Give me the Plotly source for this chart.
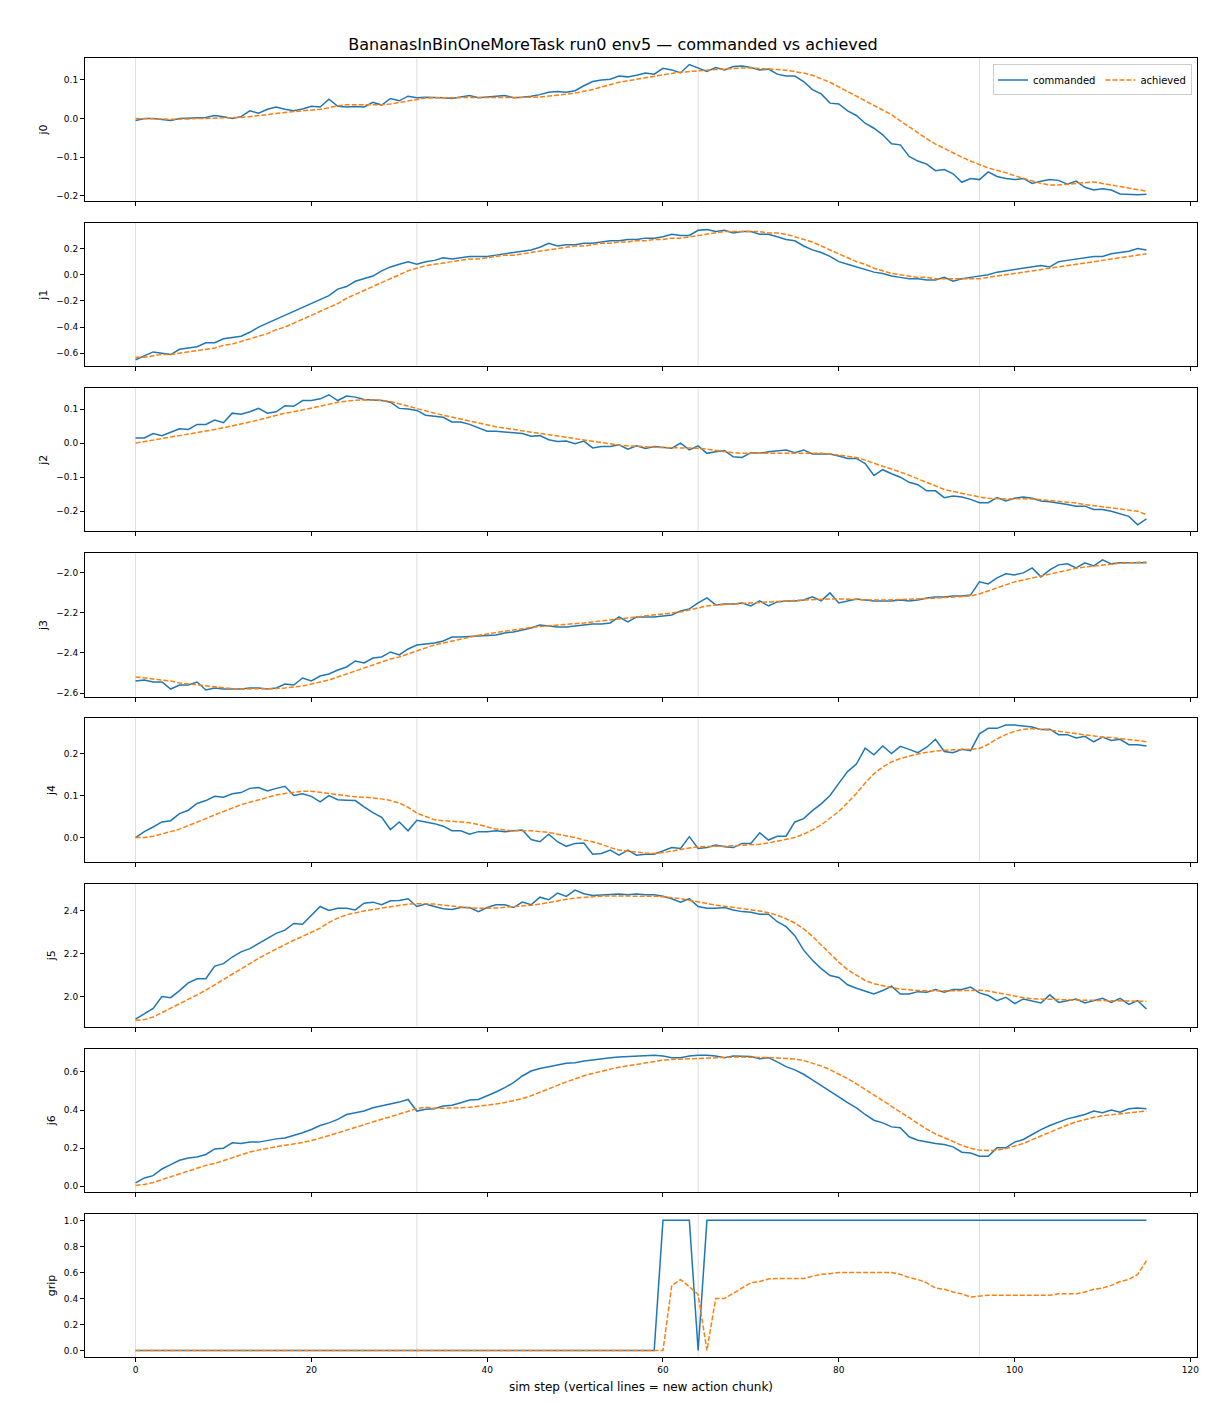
import plotly.graph_objects as go
from plotly.subplots import make_subplots

steps = list(range(116))
chunk_starts = [0, 32, 64, 96]
joint_names = ["j0", "j1", "j2", "j3", "j4", "j5", "j6", "grip"]
y_dticks = [0.1, 0.2, 0.1, 0.2, 0.1, 0.2, 0.2, 0.2]
x_ticks = [0, 20, 40, 60, 80, 100, 120]

j0_cmd = [-0.005,0.000,0.000,-0.003,-0.005,0.000,0.001,0.002,0.003,0.008,
0.005,0.000,0.005,0.020,0.014,0.024,0.030,0.024,0.020,0.025,
0.032,0.030,0.050,0.032,0.030,0.031,0.030,0.042,0.035,0.052,
0.046,0.058,0.054,0.055,0.055,0.054,0.052,0.056,0.060,0.054,
0.056,0.058,0.060,0.054,0.055,0.058,0.062,0.068,0.070,0.068,
0.072,0.085,0.096,0.100,0.102,0.110,0.108,0.112,0.118,0.115,
0.130,0.126,0.118,0.140,0.132,0.122,0.132,0.126,0.135,0.136,
0.132,0.126,0.128,0.115,0.110,0.110,0.096,0.075,0.064,0.040,
0.038,0.020,0.008,-0.012,-0.025,-0.042,-0.065,-0.068,-0.098,-0.110,
-0.118,-0.135,-0.132,-0.143,-0.165,-0.155,-0.158,-0.138,-0.150,-0.155,
-0.158,-0.155,-0.168,-0.162,-0.158,-0.160,-0.170,-0.162,-0.178,-0.185,
-0.182,-0.185,-0.195,-0.196,-0.197,-0.196]
j0_ach = [0.0,0.0,0.0,-0.001,-0.002,-0.002,-0.001,0.0,0.0,0.001,
0.002,0.002,0.003,0.005,0.008,0.01,0.013,0.016,0.018,0.02,
0.022,0.024,0.028,0.033,0.036,0.036,0.035,0.035,0.036,0.038,
0.042,0.046,0.05,0.053,0.054,0.054,0.054,0.054,0.055,0.055,
0.055,0.055,0.055,0.055,0.055,0.055,0.056,0.058,0.06,0.063,
0.066,0.07,0.075,0.082,0.088,0.094,0.098,0.102,0.106,0.11,
0.114,0.117,0.12,0.122,0.124,0.126,0.127,0.128,0.13,0.131,
0.131,0.13,0.128,0.127,0.125,0.122,0.118,0.112,0.104,0.094,
0.082,0.07,0.058,0.046,0.034,0.022,0.01,-0.006,-0.022,-0.038,
-0.052,-0.066,-0.078,-0.09,-0.1,-0.11,-0.12,-0.128,-0.134,-0.14,
-0.148,-0.155,-0.162,-0.168,-0.172,-0.172,-0.17,-0.168,-0.165,-0.164,
-0.168,-0.172,-0.176,-0.18,-0.185,-0.188]

j1_cmd = [-0.65,-0.62,-0.59,-0.60,-0.61,-0.57,-0.56,-0.55,-0.52,-0.52,
-0.49,-0.48,-0.47,-0.44,-0.40,-0.37,-0.34,-0.31,-0.28,-0.25,
-0.22,-0.19,-0.16,-0.11,-0.09,-0.05,-0.03,-0.01,0.03,0.06,
0.08,0.10,0.08,0.10,0.11,0.13,0.12,0.13,0.14,0.14,
0.14,0.15,0.16,0.17,0.18,0.19,0.21,0.24,0.22,0.23,
0.23,0.24,0.24,0.25,0.26,0.26,0.27,0.27,0.28,0.28,
0.29,0.31,0.30,0.30,0.34,0.345,0.33,0.34,0.32,0.33,
0.33,0.31,0.31,0.29,0.27,0.26,0.22,0.19,0.17,0.14,
0.10,0.08,0.06,0.04,0.02,0.01,-0.01,-0.02,-0.03,-0.03,
-0.04,-0.04,-0.02,-0.05,-0.03,-0.02,-0.01,0.00,0.02,0.03,
0.04,0.05,0.06,0.07,0.06,0.10,0.11,0.12,0.13,0.14,
0.14,0.16,0.17,0.18,0.20,0.19]
j1_ach = [-0.63,-0.63,-0.62,-0.61,-0.61,-0.60,-0.59,-0.58,-0.57,-0.56,
-0.54,-0.53,-0.51,-0.49,-0.47,-0.45,-0.42,-0.40,-0.37,-0.34,
-0.31,-0.28,-0.25,-0.22,-0.18,-0.15,-0.12,-0.09,-0.06,-0.03,
0.00,0.03,0.05,0.07,0.08,0.09,0.10,0.11,0.12,0.12,
0.13,0.14,0.15,0.15,0.16,0.17,0.18,0.19,0.20,0.21,
0.22,0.22,0.23,0.24,0.24,0.25,0.25,0.26,0.26,0.27,
0.27,0.28,0.28,0.29,0.30,0.31,0.32,0.33,0.33,0.33,
0.33,0.33,0.32,0.32,0.31,0.29,0.27,0.25,0.22,0.19,
0.16,0.13,0.10,0.08,0.05,0.03,0.01,0.00,-0.01,-0.02,
-0.02,-0.03,-0.03,-0.03,-0.03,-0.03,-0.03,-0.02,-0.01,0.00,
0.01,0.02,0.03,0.04,0.05,0.06,0.07,0.08,0.09,0.10,
0.11,0.12,0.13,0.14,0.15,0.16]

j2_cmd = [0.015,0.015,0.028,0.022,0.032,0.042,0.040,0.055,0.055,0.068,
0.060,0.088,0.085,0.092,0.102,0.088,0.092,0.110,0.108,0.125,
0.125,0.130,0.142,0.125,0.138,0.135,0.128,0.126,0.125,0.120,
0.102,0.100,0.096,0.082,0.078,0.076,0.062,0.062,0.055,0.045,
0.035,0.035,0.032,0.030,0.028,0.020,0.022,0.010,0.005,0.006,
-0.002,0.006,-0.014,-0.010,-0.010,-0.005,-0.018,-0.008,-0.016,-0.010,
-0.012,-0.015,0.000,-0.020,-0.008,-0.030,-0.025,-0.022,-0.040,-0.042,
-0.028,-0.030,-0.025,-0.022,-0.020,-0.028,-0.020,-0.032,-0.032,-0.032,
-0.038,-0.045,-0.045,-0.060,-0.095,-0.078,-0.090,-0.100,-0.115,-0.122,
-0.140,-0.140,-0.160,-0.155,-0.158,-0.165,-0.175,-0.175,-0.160,-0.170,
-0.162,-0.158,-0.162,-0.170,-0.172,-0.175,-0.180,-0.185,-0.185,-0.195,
-0.195,-0.200,-0.208,-0.215,-0.240,-0.222]
j2_ach = [0.0,0.005,0.01,0.015,0.018,0.022,0.026,0.03,0.035,0.04,
0.045,0.05,0.056,0.062,0.068,0.075,0.082,0.088,0.092,0.097,
0.102,0.108,0.114,0.12,0.124,0.126,0.127,0.127,0.126,0.122,
0.115,0.108,0.1,0.094,0.088,0.082,0.076,0.07,0.064,0.058,
0.052,0.048,0.044,0.04,0.036,0.033,0.028,0.024,0.02,0.016,
0.012,0.008,0.004,0.0,-0.004,-0.006,-0.008,-0.01,-0.011,-0.012,
-0.013,-0.013,-0.013,-0.013,-0.015,-0.018,-0.022,-0.025,-0.028,-0.03,
-0.03,-0.03,-0.03,-0.029,-0.028,-0.028,-0.028,-0.029,-0.03,-0.032,
-0.035,-0.038,-0.042,-0.05,-0.06,-0.068,-0.076,-0.084,-0.094,-0.105,
-0.116,-0.127,-0.136,-0.142,-0.148,-0.153,-0.158,-0.162,-0.164,-0.164,
-0.163,-0.163,-0.164,-0.166,-0.168,-0.17,-0.173,-0.176,-0.18,-0.183,
-0.186,-0.189,-0.192,-0.196,-0.2,-0.21]

j3_cmd = [-2.54,-2.535,-2.545,-2.545,-2.58,-2.56,-2.56,-2.545,-2.585,-2.575,
-2.58,-2.58,-2.58,-2.575,-2.575,-2.58,-2.575,-2.555,-2.56,-2.525,
-2.54,-2.515,-2.505,-2.485,-2.47,-2.44,-2.45,-2.425,-2.42,-2.395,
-2.41,-2.38,-2.36,-2.355,-2.35,-2.34,-2.32,-2.32,-2.318,-2.316,
-2.315,-2.31,-2.30,-2.295,-2.285,-2.275,-2.26,-2.265,-2.27,-2.27,
-2.265,-2.26,-2.255,-2.255,-2.25,-2.22,-2.245,-2.22,-2.22,-2.22,
-2.215,-2.21,-2.19,-2.18,-2.15,-2.125,-2.16,-2.155,-2.155,-2.15,
-2.165,-2.14,-2.165,-2.145,-2.14,-2.14,-2.135,-2.12,-2.14,-2.10,
-2.15,-2.14,-2.13,-2.135,-2.14,-2.14,-2.14,-2.135,-2.14,-2.135,
-2.125,-2.12,-2.12,-2.115,-2.115,-2.11,-2.045,-2.055,-2.025,-2.005,
-2.01,-2.0,-1.975,-2.02,-1.985,-1.96,-1.955,-1.975,-1.95,-1.965,
-1.935,-1.955,-1.95,-1.95,-1.95,-1.95]
j3_ach = [-2.52,-2.525,-2.53,-2.535,-2.54,-2.55,-2.555,-2.56,-2.565,-2.57,
-2.575,-2.578,-2.58,-2.58,-2.58,-2.58,-2.578,-2.575,-2.57,-2.565,
-2.555,-2.545,-2.535,-2.52,-2.505,-2.49,-2.475,-2.46,-2.445,-2.43,
-2.42,-2.405,-2.39,-2.375,-2.36,-2.35,-2.34,-2.33,-2.32,-2.312,
-2.305,-2.298,-2.29,-2.283,-2.277,-2.272,-2.268,-2.265,-2.262,-2.258,
-2.255,-2.25,-2.245,-2.24,-2.235,-2.23,-2.225,-2.22,-2.215,-2.21,
-2.205,-2.2,-2.195,-2.185,-2.175,-2.165,-2.16,-2.158,-2.155,-2.152,
-2.15,-2.148,-2.145,-2.143,-2.14,-2.138,-2.135,-2.132,-2.13,-2.13,
-2.13,-2.132,-2.135,-2.136,-2.136,-2.136,-2.135,-2.134,-2.132,-2.13,
-2.128,-2.126,-2.124,-2.122,-2.12,-2.115,-2.105,-2.09,-2.075,-2.06,
-2.045,-2.035,-2.025,-2.015,-2.005,-1.995,-1.985,-1.977,-1.97,-1.965,
-1.96,-1.955,-1.952,-1.95,-1.948,-1.946]

j4_cmd = [0.0,0.014,0.025,0.037,0.04,0.057,0.065,0.081,0.088,0.098,
0.096,0.104,0.107,0.117,0.119,0.111,0.117,0.122,0.10,0.104,
0.098,0.085,0.10,0.09,0.089,0.088,0.073,0.059,0.048,0.019,
0.037,0.016,0.041,0.037,0.033,0.027,0.016,0.016,0.008,0.014,
0.014,0.016,0.014,0.016,0.018,-0.005,-0.01,0.008,-0.01,-0.021,
-0.014,-0.013,-0.04,-0.038,-0.03,-0.042,-0.03,-0.042,-0.04,-0.04,
-0.032,-0.024,-0.026,0.002,-0.026,-0.024,-0.018,-0.022,-0.024,-0.014,
-0.014,0.011,-0.006,0.003,0.003,0.037,0.045,0.064,0.08,0.10,
0.129,0.157,0.175,0.213,0.197,0.218,0.20,0.217,0.21,0.202,
0.215,0.234,0.205,0.202,0.21,0.207,0.247,0.26,0.26,0.268,
0.268,0.265,0.263,0.257,0.258,0.245,0.245,0.237,0.241,0.228,
0.239,0.231,0.234,0.221,0.221,0.218]
j4_ach = [0,0,0.003,0.008,0.014,0.02,0.028,0.036,0.045,0.054,
0.062,0.07,0.078,0.084,0.09,0.096,0.101,0.105,0.108,0.11,
0.11,0.108,0.105,0.102,0.099,0.097,0.096,0.094,0.092,0.088,
0.082,0.072,0.058,0.05,0.042,0.04,0.039,0.037,0.035,0.031,
0.025,0.02,0.018,0.016,0.016,0.016,0.014,0.012,0.008,0.004,
0.0,-0.006,-0.01,-0.016,-0.024,-0.03,-0.033,-0.035,-0.037,-0.038,
-0.036,-0.032,-0.028,-0.025,-0.022,-0.021,-0.021,-0.021,-0.02,-0.019,
-0.018,-0.016,-0.013,-0.009,-0.005,0.0,0.008,0.018,0.03,0.045,
0.062,0.083,0.105,0.13,0.152,0.168,0.18,0.188,0.194,0.199,
0.203,0.206,0.208,0.209,0.209,0.21,0.212,0.222,0.235,0.245,
0.253,0.258,0.259,0.258,0.256,0.253,0.25,0.247,0.244,0.241,
0.239,0.238,0.236,0.234,0.231,0.228]

j5_cmd = [1.895,1.919,1.945,2.0,1.995,2.028,2.064,2.083,2.083,2.142,
2.153,2.184,2.208,2.223,2.247,2.27,2.294,2.309,2.34,2.336,
2.377,2.419,2.40,2.411,2.411,2.403,2.434,2.439,2.427,2.445,
2.447,2.455,2.419,2.43,2.419,2.408,2.405,2.414,2.414,2.395,
2.414,2.427,2.427,2.414,2.439,2.427,2.462,2.45,2.481,2.466,
2.495,2.478,2.47,2.473,2.477,2.477,2.473,2.477,2.473,2.473,
2.466,2.455,2.439,2.455,2.419,2.411,2.411,2.414,2.403,2.395,
2.392,2.383,2.383,2.348,2.325,2.283,2.216,2.169,2.13,2.098,
2.089,2.055,2.039,2.027,2.012,2.028,2.048,2.012,2.012,2.023,
2.02,2.033,2.02,2.033,2.033,2.044,2.017,2.005,1.981,1.997,
1.967,1.989,1.981,1.97,2.008,1.973,1.981,1.989,1.97,1.981,
1.992,1.973,1.992,1.964,1.981,1.942]
j5_ach = [1.89,1.893,1.905,1.925,1.945,1.965,1.985,2.008,2.03,2.055,
2.08,2.105,2.13,2.155,2.178,2.2,2.222,2.243,2.262,2.28,
2.298,2.318,2.345,2.365,2.38,2.39,2.398,2.405,2.412,2.418,
2.425,2.43,2.432,2.432,2.43,2.425,2.42,2.415,2.412,2.41,
2.41,2.412,2.415,2.418,2.42,2.425,2.43,2.438,2.445,2.452,
2.458,2.462,2.465,2.467,2.468,2.468,2.468,2.468,2.467,2.466,
2.464,2.46,2.455,2.448,2.44,2.432,2.425,2.42,2.415,2.41,
2.405,2.398,2.39,2.378,2.362,2.342,2.315,2.28,2.24,2.2,
2.16,2.125,2.098,2.075,2.06,2.05,2.042,2.035,2.03,2.028,
2.027,2.027,2.026,2.026,2.026,2.028,2.03,2.026,2.018,2.01,
2.0,1.995,1.99,1.988,1.986,1.985,1.985,1.984,1.983,1.983,
1.982,1.981,1.98,1.98,1.979,1.978]

j6_cmd = [0.018,0.044,0.056,0.091,0.114,0.137,0.149,0.154,0.167,0.196,
0.2,0.228,0.225,0.233,0.232,0.242,0.249,0.254,0.267,0.281,
0.298,0.319,0.333,0.351,0.377,0.386,0.395,0.412,0.421,0.43,
0.442,0.456,0.395,0.404,0.407,0.421,0.425,0.439,0.453,0.456,
0.474,0.495,0.518,0.544,0.579,0.605,0.618,0.628,0.635,0.646,
0.649,0.658,0.663,0.67,0.675,0.679,0.681,0.684,0.684,0.688,
0.684,0.675,0.675,0.684,0.688,0.688,0.684,0.675,0.684,0.681,
0.681,0.67,0.675,0.653,0.628,0.611,0.588,0.558,0.53,0.50,
0.47,0.439,0.412,0.377,0.347,0.333,0.312,0.307,0.26,0.242,
0.232,0.225,0.219,0.207,0.179,0.175,0.158,0.158,0.202,0.202,
0.232,0.246,0.272,0.298,0.319,0.337,0.354,0.365,0.377,0.395,
0.386,0.40,0.389,0.407,0.411,0.407]
j6_ach = [0.005,0.01,0.02,0.035,0.05,0.065,0.08,0.095,0.11,0.12,
0.135,0.15,0.165,0.18,0.19,0.2,0.208,0.215,0.222,0.23,
0.24,0.252,0.265,0.28,0.295,0.31,0.325,0.34,0.352,0.365,
0.378,0.392,0.408,0.415,0.41,0.41,0.41,0.412,0.415,0.42,
0.425,0.432,0.44,0.45,0.46,0.475,0.492,0.512,0.53,0.548,
0.565,0.58,0.592,0.605,0.615,0.625,0.633,0.642,0.65,0.656,
0.662,0.666,0.668,0.67,0.672,0.675,0.677,0.678,0.678,0.678,
0.678,0.677,0.676,0.674,0.672,0.668,0.66,0.648,0.632,0.612,
0.59,0.565,0.538,0.51,0.48,0.45,0.42,0.39,0.36,0.33,
0.30,0.275,0.255,0.235,0.215,0.20,0.19,0.188,0.19,0.198,
0.21,0.225,0.245,0.265,0.285,0.305,0.322,0.338,0.352,0.362,
0.37,0.375,0.38,0.385,0.39,0.395]

grip_cmd = [0]*60 + [1, 1, 1, 1, 0] + [1]*51
grip_ach = ([0]*61 + [0.5,0.545,0.49,0.43,0.0,0.4,0.4,0.44,0.48,
0.52,0.53,0.55,0.553,0.553,0.553,0.553,0.57,0.585,0.59,
0.6,0.6,0.6,0.6,0.6,0.6,0.6,0.585,0.56,0.545,
0.52,0.48,0.47,0.45,0.435,0.41,0.417,0.425,0.425,0.425,
0.425,0.425,0.425,0.425,0.425,0.435,0.435,0.435,0.45,0.47,
0.48,0.5,0.53,0.545,0.585,0.69])

commanded = [j0_cmd, j1_cmd, j2_cmd, j3_cmd, j4_cmd, j5_cmd, j6_cmd, grip_cmd]
achieved = [j0_ach, j1_ach, j2_ach, j3_ach, j4_ach, j5_ach, j6_ach, grip_ach]

BLUE = "#1f77b4"
ORANGE = "#ff7f0e"
n = len(joint_names)

fig = make_subplots(rows=n, cols=1, shared_xaxes=True, vertical_spacing=0.0169)

shapes = []
for i in range(n):
    r = i + 1
    sfx = "" if r == 1 else str(r)
    for cs in chunk_starts:
        shapes.append(dict(type="line", xref="x" + sfx, yref="y" + sfx + " domain",
                           x0=cs, x1=cs, y0=0, y1=1, layer="below",
                           line=dict(color="rgba(0,0,0,0.13)", width=1)))
    fig.add_trace(go.Scatter(x=steps, y=commanded[i], mode="lines", name="commanded",
                             line=dict(color=BLUE, width=1.5), showlegend=(i == 0), legendgroup="c"),
                  row=r, col=1)
    fig.add_trace(go.Scatter(x=steps, y=achieved[i], mode="lines", name="achieved",
                             line=dict(color=ORANGE, width=1.5, dash="5px,2px"), showlegend=(i == 0), legendgroup="a"),
                  row=r, col=1)
    allv = list(commanded[i]) + list(achieved[i])
    lo, hi = min(allv), max(allv)
    pad = 0.05 * (hi - lo)
    fig.update_yaxes(range=[lo - pad, hi + pad], dtick=y_dticks[i], tickformat=".1f",
                     title=dict(text=joint_names[i], font=dict(size=11), standoff=6),
                     showline=True, linecolor="black", linewidth=1, mirror=True, automargin=False,
                     ticks="outside", ticklen=4, tickcolor="black", showgrid=False, zeroline=False,
                     tickfont=dict(size=9), row=r, col=1)
    fig.update_xaxes(range=[-5.75, 120.75], tickvals=x_ticks, automargin=False,
                     showline=True, linecolor="black", linewidth=1, mirror=True,
                     ticks="outside", ticklen=4, tickcolor="black", showgrid=False, zeroline=False,
                     tickfont=dict(size=9), row=r, col=1)

fig.update_xaxes(title=dict(text="sim step (vertical lines = new action chunk)", font=dict(size=12), standoff=8),
                 showticklabels=True, row=n, col=1)

fig.update_layout(
    shapes=shapes,
    width=1210, height=1408,
    margin=dict(l=77, r=21, t=50, b=59),
    paper_bgcolor="white", plot_bgcolor="white",
    font=dict(family="DejaVu Sans", color="black"),
    title=dict(text="BananasInBinOneMoreTask run0 env5 — commanded vs achieved",
               x=0.5, xanchor="center", y=1 - 36 / 1408, yanchor="middle", yref="container",
               font=dict(size=16)),
    legend=dict(orientation="h", x=0.9955, xanchor="right", y=0.995, yanchor="top",
                bordercolor="#cccccc", borderwidth=1, bgcolor="rgba(255,255,255,0.8)",
                font=dict(size=10)),
)

fig.write_html("out.html")
